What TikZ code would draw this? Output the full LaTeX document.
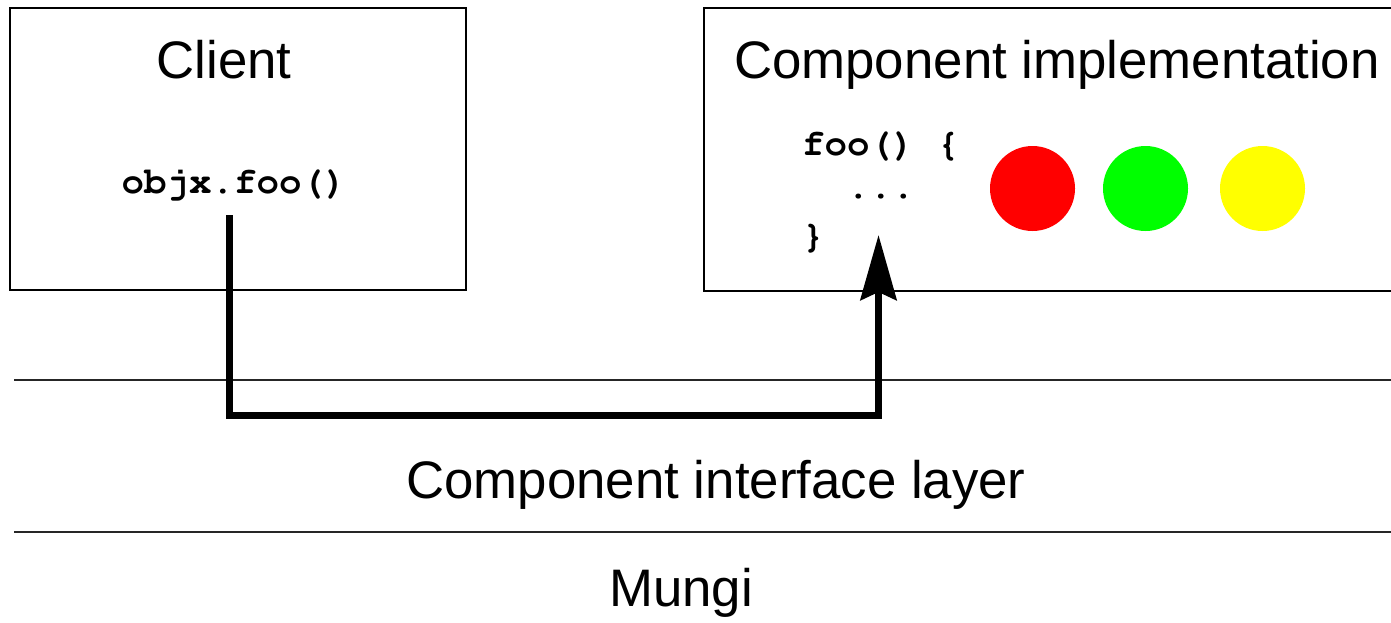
\documentclass[tikz,border=0pt]{standalone}
\usepackage[T1]{fontenc}
\usepackage{fontspec}
\setmainfont{Liberation Sans}
\newcommand{\courierbold}{\fontencoding{T1}\fontfamily{pcr}\fontseries{b}\fontshape{n}\selectfont}
\usetikzlibrary{arrows.meta}
\tikzset{
  box/.style={draw=black, line width=1.8pt, fill=none},
  layerline/.style={draw=black!85, line width=1.5pt},
  title/.style={font=\fontsize{52.8}{62}\selectfont, anchor=base, inner sep=0pt},
  code/.style={font=\courierbold\fontsize{37.5}{45}\selectfont, anchor=base west, inner sep=0pt},
  flow/.style={line width=7pt, -{Stealth[length=65pt, width=36pt, inset=8pt]}},
  lamp/.style={circle, minimum size=85pt, inner sep=0pt, draw=none}
}
\begin{document}
\begin{tikzpicture}[x=1pt, y=-1pt]
\useasboundingbox (0,0) rectangle (1391,622);
% boxes
\draw[box] (10,8) rectangle (466,290);
\draw[box] (704,8) rectangle (1400,291);
% layer lines
\draw[layerline] (14,380) -- (1395,380);
\draw[layerline] (14,532) -- (1395,532);
% titles
\node[title] (client) at (224,78) {Client};
\node[title] (impl) at (1057,78) {Component implementation};
\node[title] (cil) at (716,498) {Component interface layer};
\node[title] (mungi) at (681,606) {Mungi};
% code
\node[code, anchor=base] (call) at (234,193) {objx.foo()};
\node[code] (c1) at (802,155) {foo() \{};
\node[code] (c2) at (802,198) {\phantom{fo}...};
\node[code] (c3) at (802,247) {\}};
% lamps
\node[lamp, fill={rgb,255:red,255;green,0;blue,0}] (red) at (1032.5,188.5) {};
\node[lamp, fill={rgb,255:red,0;green,255;blue,0}] (green) at (1145.5,188.5) {};
\node[lamp, fill={rgb,255:red,255;green,255;blue,0}] (yellow) at (1262.5,188.5) {};
% arrow
\coordinate (src) at (229.5,215);
\coordinate (bend) at (229.5,415);
\coordinate (dst) at (878.5,235);
\draw[flow] (src) |- (bend -| dst) -- (dst);
\end{tikzpicture}
\end{document}
